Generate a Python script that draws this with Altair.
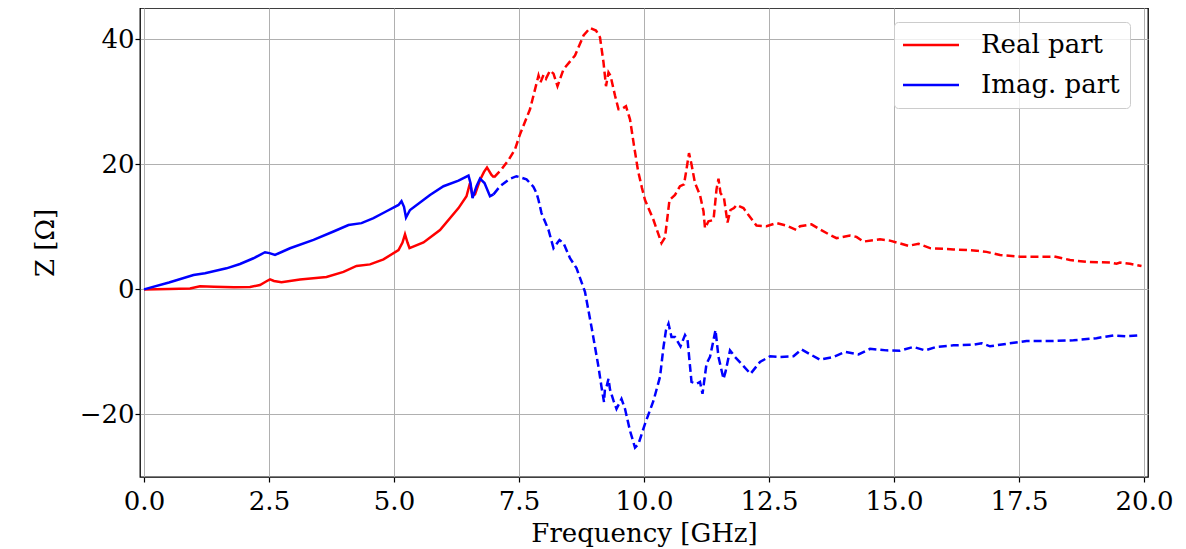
import altair as alt
import pandas as pd

# ---- data ----
real_solid_f = [0.0, 0.5, 0.92, 1.12, 1.4, 1.8, 2.12, 2.32, 2.45, 2.52, 2.6, 2.75, 3.12, 3.65, 3.99,
                4.25, 4.52, 4.79, 5.09, 5.17, 5.22, 5.27, 5.31, 5.59, 5.92, 6.29, 6.45, 6.52, 6.57,
                6.62, 6.72, 6.8, 6.86, 6.95, 7.0]
real_solid_z = [0.0, 0.05, 0.15, 0.5, 0.42, 0.35, 0.4, 0.7, 1.3, 1.6, 1.35, 1.15, 1.6, 2.0, 2.8,
                3.75, 4.0, 4.8, 6.3, 7.5, 8.8, 7.5, 6.6, 7.5, 9.5, 13.0, 14.9, 17.0, 15.0,
                15.2, 17.5, 18.8, 19.5, 18.3, 17.9]

real_dash_f = [7.0, 7.15, 7.3, 7.42, 7.52, 7.72, 7.89, 7.93, 7.99, 8.04, 8.12, 8.19, 8.27, 8.39, 8.62,
               8.79, 8.92, 9.04, 9.12, 9.19, 9.24, 9.29, 9.33, 9.42, 9.49, 9.55, 9.64, 9.72, 9.8,
               9.88, 9.96, 10.02, 10.19, 10.35, 10.42, 10.51, 10.62, 10.72, 10.8, 10.85, 10.9,
               10.95, 11.02, 11.12, 11.19, 11.22, 11.29, 11.39, 11.45, 11.49, 11.53, 11.6, 11.67,
               11.73, 11.8, 11.85, 11.99, 12.09, 12.25, 12.45, 12.65, 12.85, 13.05, 13.12, 13.35,
               13.52, 13.7, 13.85, 14.12, 14.25, 14.39, 14.72, 14.92, 15.29, 15.49, 15.72, 16.19,
               16.65, 16.85, 17.12, 17.52, 18.12, 18.19, 18.52, 18.85, 19.32, 19.45, 19.52, 19.72,
               19.95]
real_dash_z = [17.9, 19.2, 20.8, 22.4, 24.8, 28.8, 34.2, 33.1, 34.3, 33.7, 35.0, 34.5, 32.5, 35.2, 37.4,
               40.6, 41.8, 41.4, 40.3, 36.3, 32.5, 34.7, 34.2, 31.0, 28.8, 28.8, 29.3, 27.2, 23.0,
               19.0, 16.2, 14.3, 11.1, 7.4, 8.3, 14.3, 15.1, 16.5, 16.8, 19.2, 21.8,
               20.0, 17.0, 15.1, 12.5, 9.8, 10.9, 11.1, 16.0, 17.7, 15.4, 14.6, 10.7,
               12.7, 13.0, 13.5, 13.0, 11.9, 10.2, 10.1, 10.6, 10.2, 9.5, 10.1, 10.4,
               9.6, 8.8, 8.2, 8.6, 8.4, 7.65, 8.0, 7.8, 6.96, 7.3, 6.6, 6.4,
               6.2, 6.0, 5.5, 5.24, 5.24, 5.3, 4.7, 4.4, 4.3, 4.1, 4.3, 4.1,
               3.74]

imag_solid_f = [0.0, 0.5, 0.99, 1.22, 1.65, 1.92, 2.19, 2.42, 2.51, 2.62, 2.92, 3.39, 3.79, 4.09, 4.35,
                4.59, 4.85, 5.09, 5.15, 5.2, 5.24, 5.32, 5.72, 5.99, 6.29, 6.49, 6.53, 6.57, 6.65,
                6.72, 6.81, 6.92, 6.99]
imag_solid_z = [0.0, 1.1, 2.3, 2.57, 3.37, 4.06, 4.98, 5.94, 5.8, 5.5, 6.58, 7.92, 9.26, 10.3, 10.6,
                11.4, 12.5, 13.5, 14.1, 13.2, 11.5, 12.7, 15.1, 16.5, 17.4, 18.2, 17.0, 14.6, 16.5,
                17.7, 17.0, 14.9, 15.2]

imag_dash_f = [6.99, 7.12, 7.3, 7.45, 7.65, 7.79, 7.85, 7.89, 7.95, 8.09, 8.19, 8.31, 8.39, 8.52, 8.65,
               8.82, 8.95, 9.09, 9.15, 9.2, 9.22, 9.25, 9.29, 9.32, 9.39, 9.45, 9.55, 9.62, 9.72,
               9.82, 9.89, 10.02, 10.19, 10.32, 10.39, 10.44, 10.49, 10.55, 10.62, 10.73, 10.82,
               10.87, 10.95, 11.05, 11.12, 11.17, 11.25, 11.32, 11.39, 11.43, 11.49, 11.59, 11.63,
               11.72, 11.82, 11.95, 12.13, 12.32, 12.52, 12.72, 12.99, 13.15, 13.52, 13.79, 14.02,
               14.29, 14.52, 14.85, 15.12, 15.39, 15.62, 15.85, 16.19, 16.59, 16.75, 16.92, 17.25,
               17.65, 18.19, 18.59, 19.05, 19.39, 19.65, 19.92]
imag_dash_z = [15.2, 16.5, 17.6, 18.1, 17.6, 16.4, 15.4, 14.3, 12.2, 9.5, 6.6, 7.9, 7.4, 5.0, 3.4,
               -0.4, -6.0, -12.4, -15.6, -18.0, -15.8, -15.6, -14.3, -16.0, -17.8, -19.1, -17.5, -19.1, -22.6,
               -25.3, -24.7, -21.5, -17.8, -14.0, -9.2, -6.5, -5.5, -7.6, -7.6, -9.1, -7.3,
               -8.0, -14.8, -15.1, -14.8, -16.7, -11.9, -10.8, -8.1, -6.5, -10.8, -14.3, -13.2,
               -9.75, -10.8, -11.9, -13.5, -11.6, -10.7, -10.8, -10.7, -9.6, -11.25, -10.8, -10.0,
               -10.4, -9.5, -9.75, -9.8, -9.2, -9.75, -9.2, -8.95, -8.85, -8.6, -9.1, -8.7,
               -8.25, -8.25, -8.15, -7.8, -7.35, -7.5, -7.35]

series_names = ["Real part", "Imag. part"]
series_colors = ["#ff0000", "#0000ff"]
x_ticks = [0.0, 2.5, 5.0, 7.5, 10.0, 12.5, 15.0, 17.5, 20.0]
y_ticks = [-20, 0, 20, 40]


def frame(f, z, name):
    return pd.DataFrame({"freq": f, "Z": z, "part": name})


solid = pd.concat([frame(real_solid_f, real_solid_z, series_names[0]),
                   frame(imag_solid_f, imag_solid_z, series_names[1])])
dashed = pd.concat([frame(real_dash_f, real_dash_z, series_names[0]),
                    frame(imag_dash_f, imag_dash_z, series_names[1])])

x = alt.X("freq:Q",
          scale=alt.Scale(domain=[-0.08, 20.08], nice=False, zero=False),
          axis=alt.Axis(title="Frequency [GHz]", values=x_ticks, format=".1f",
                        labelFlush=False, labelPadding=6, titlePadding=6))
y = alt.Y("Z:Q",
          scale=alt.Scale(domain=[-30, 45], nice=False, zero=False),
          axis=alt.Axis(title="Z [Ω]", values=y_ticks, format="d",
                        labelFlush=False, labelPadding=1, titlePadding=21))
color = alt.Color("part:N",
                  scale=alt.Scale(domain=series_names, range=series_colors),
                  legend=alt.Legend(title=None, orient="none", legendX=754, legendY=14,
                                    symbolType="M-1.4,0H4.2", symbolSize=400, symbolStrokeWidth=2.5,
                                    symbolDash=[1, 0],
                                    labelFont="DejaVu Serif", labelFontSize=26, labelColor="black",
                                    labelOffset=51, padding=10, rowPadding=14,
                                    fillColor="rgba(255,255,255,0.8)", strokeColor="#cccccc",
                                    cornerRadius=4))

solid_layer = alt.Chart(solid).mark_line(strokeWidth=2.5).encode(x=x, y=y, color=color)
dash_layer = alt.Chart(dashed).mark_line(strokeWidth=2.5, strokeDash=[8, 4]).encode(x=x, y=y, color=color)

chart = alt.layer(solid_layer, dash_layer).properties(
    width=1008, height=469,
    autosize=alt.AutoSizeParams(type="none"),
    padding={"left": 132, "top": 0, "right": 30, "bottom": 72},
).configure_view(
    stroke="black", strokeWidth=1.3
).configure_axis(
    domain=False, grid=True, gridColor="#b0b0b0", gridWidth=1,
    tickColor="black", tickSize=5, tickWidth=1.2,
    labelFont="DejaVu Serif", labelFontSize=26, labelColor="black",
    titleFont="DejaVu Serif", titleFontSize=26, titleFontWeight="normal", titleColor="black",
)

chart.save("out.html", embed_options={"renderer": "svg", "actions": False})
